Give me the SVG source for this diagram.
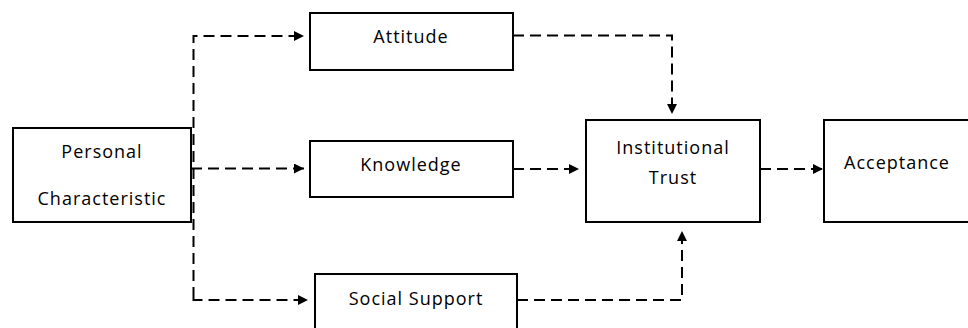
<svg xmlns="http://www.w3.org/2000/svg" width="968" height="328" viewBox="0 0 968 328">
<style>
.box{fill:#fff;stroke:#000;stroke-width:2}
.lbl{font-family:"Open Sans","Liberation Sans",sans-serif;font-size:18px;letter-spacing:1px;fill:#000;text-anchor:middle}
.c{fill:none;stroke:#000;stroke-width:2;stroke-dasharray:11 6}
</style>
<defs>
<marker id="ah" viewBox="0 0 10 10" refX="10" refY="5" markerWidth="10" markerHeight="10" markerUnits="userSpaceOnUse" orient="auto">
<path d="M0,0 L10,5 L0,10 Z" fill="#000"/>
</marker>
</defs>
<rect width="968" height="328" fill="#fff"/>
<g id="connectors">
<path class="c" d="M193.5,298 V36 H304" marker-end="url(#ah)"/>
<path class="c" d="M191,168.5 H304" marker-end="url(#ah)"/>
<path class="c" d="M193.5,298 V300 H308" marker-end="url(#ah)"/>
<path class="c" d="M513,35.5 H672 V114" marker-end="url(#ah)"/>
<path class="c" d="M513,169 H579" marker-end="url(#ah)"/>
<path class="c" d="M517,300 H682 V231" marker-end="url(#ah)"/>
<path class="c" d="M760,169 H823" marker-end="url(#ah)"/>
</g>
<g id="personal">
<rect class="box" x="13" y="128" width="178" height="94"/>
<text class="lbl" x="102" y="158">Personal</text>
<text class="lbl" x="102" y="205">Characteristic</text>
</g>
<g id="attitude">
<rect class="box" x="310" y="13" width="203" height="57"/>
<text class="lbl" x="411" y="43">Attitude</text>
</g>
<g id="knowledge">
<rect class="box" x="310" y="141" width="203" height="56"/>
<text class="lbl" x="411" y="171">Knowledge</text>
</g>
<g id="social">
<rect class="box" x="315" y="274" width="202" height="70"/>
<text class="lbl" x="416" y="305">Social Support</text>
</g>
<g id="trust">
<rect class="box" x="586" y="120" width="174" height="102"/>
<text class="lbl" x="673" y="154">Institutional</text>
<text class="lbl" x="673" y="184">Trust</text>
</g>
<g id="acceptance">
<rect class="box" x="824" y="120" width="160" height="102"/>
<text class="lbl" x="897" y="169">Acceptance</text>
</g>
</svg>
